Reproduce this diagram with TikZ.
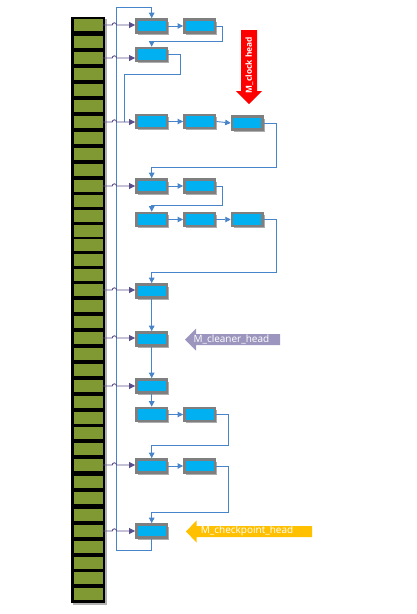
\documentclass[tikz,border=0pt]{standalone}
\usepackage{fontspec}
\newfontfamily\lbl{Open Sans}
\usetikzlibrary{arrows.meta,shadows}
\definecolor{cellgreen}{RGB}{128,153,51}
\definecolor{nodeblue}{RGB}{0,176,240}
\definecolor{nodegray}{RGB}{127,127,127}
\definecolor{lineblue}{RGB}{72,132,202}
\definecolor{arrowpurple}{RGB}{88,78,140}
\definecolor{clockred}{RGB}{255,0,0}
\definecolor{cleanergray}{RGB}{156,150,190}
\definecolor{ckyellow}{RGB}{255,192,0}
\tikzset{
  cell/.style={fill=cellgreen, draw=none, minimum width=29pt, minimum height=12pt, inner sep=0pt},
  nd/.style={fill=nodeblue, draw=nodegray, line width=2.6pt, minimum width=30.7pt, minimum height=13pt, inner sep=0pt,
    drop shadow={shadow xshift=2pt, shadow yshift=-2pt, opacity=.4, fill=black!80}},
  bl/.style={draw=lineblue, line width=0.9pt},
  bla/.style={bl, -{Triangle[length=5.5pt,width=5.5pt]}},
  pa/.style={draw=arrowpurple, line width=0.9pt, -{Triangle[length=6pt,width=6pt]}},
  lbltext/.style={text=white, inner sep=0pt, font=\lbl\fontsize{10}{12}\selectfont}
}
\begin{document}
\begin{tikzpicture}[x=1pt,y=-1pt]
\useasboundingbox (0,0) rectangle (416,614);
% bucket array
\path[fill=black, drop shadow={shadow xshift=2pt, shadow yshift=-2pt, opacity=.3, fill=black}] (71,17) rectangle (105,603);
\foreach \yy [count=\i from 0] in {25,41.5,58,74,90,106,122,138,154,170,186,200.9,215.7,230.6,245.4,260.3,275.1,290,306,322,338,354,370,386,401.8,417.6,433.4,449.2,465,481.5,498,514.5,531,546.75,562.5,578.25,594}
  \node[cell] (c\i) at (88,\yy) {};
% list nodes
\def\xa{151.7}\def\xb{199.7}\def\xc{247.4}
\node[nd] (A1) at (\xa,26) {};
\node[nd] (A2) at (\xb,26) {};
\node[nd] (B1) at (\xa,54.5) {};
\node[nd] (C1) at (\xa,121.5) {};
\node[nd] (C2) at (\xb,121.5) {};
\node[nd] (C3) at (\xc,123) {};
\node[nd] (D1) at (\xa,186) {};
\node[nd] (D2) at (\xb,186) {};
\node[nd] (E1) at (\xa,219.5) {};
\node[nd] (E2) at (\xb,219.5) {};
\node[nd] (E3) at (\xc,219.5) {};
\node[nd] (F1) at (\xa,291) {};
\node[nd] (G1) at (\xa,339) {};
\node[nd] (H1) at (\xa,386) {};
\node[nd] (I1) at (\xa,414.5) {};
\node[nd] (I2) at (\xb,414.5) {};
\node[nd] (J1) at (\xa,466) {};
\node[nd] (J2) at (\xb,466) {};
\node[nd] (K1) at (\xa,531) {};
% blue connectors
\coordinate (ab) at (222.3,41.7);
\coordinate (bc) at (180,74);
\coordinate (bc2) at (124,121.5);
\coordinate (cd) at (276.7,167.3);
\coordinate (de) at (222.3,205.7);
\coordinate (ef) at (276.7,272.3);
\coordinate (ij) at (228.3,445.7);
\coordinate (jk) at (228.3,512.3);
\coordinate (l1) at (116.7,550);
\coordinate (l2) at (116.7,7);
\draw[bla] (A1.east) -- (A2.west);
\draw[bla] (A2.east) -| (ab) -| (B1.north);
\draw[bl] (B1.east) -| (bc) -| (bc2);
\draw[bla] (C1.east) -- (C2.west);
\draw[bla] (C2.east) -- (C3.west);
\draw[bla] (C3.east) -| (cd) -| (D1.north);
\draw[bla] (D1.east) -- (D2.west);
\draw[bla] (D2.east) -| (de) -| (E1.north);
\draw[bla] (E1.east) -- (E2.west);
\draw[bla] (E2.east) -- (E3.west);
\draw[bla] (E3.east) -| (ef) -| (F1.north);
\draw[bla] (F1.south) -- (G1.north);
\draw[bla] (G1.south) -- (H1.north);
\draw[bla] (H1.south) -- (I1.north);
\draw[bla] (I1.east) -- (I2.west);
\draw[bla] (I2.east) -| (ij) -| (J1.north);
\draw[bla] (J1.east) -- (J2.west);
\draw[bla] (J2.east) -| (jk) -| (K1.north);
\draw[bla] (K1.south) |- (l1) -- (l2) -| (A1.north);
% purple pointers from buckets (with hop over the blue line)
\foreach \c/\n in {0/A1,2/B1,6/C1,10/D1,17/F1,20/G1,23/H1,28/J1,32/K1}
  \draw[pa] (c\c.east) -- ++(9.5,0) arc[start angle=180,end angle=0,radius=2.2pt] -- (c\c.east -| \n.west);
% labels
\fill[clockred] (241,30) -- (257,30) -- (257,91) -- (262,91) -- (249,104) -- (236,91) -- (241,91) -- cycle;
\node[lbltext, rotate=90, font=\lbl\bfseries\fontsize{8.4}{10}\selectfont] (clk) at (249.3,65) {M\_clock head};
\fill[cleanergray] (185,339.5) -- (196,328.5) -- (196,334) -- (280,334) -- (280,345) -- (196,345) -- (196,350.5) -- cycle;
\node[lbltext, anchor=west] (cln) at (193.3,339.3) {M\_cleaner\_head};
\fill[ckyellow] (186,531.5) -- (196.5,520.5) -- (196.5,526) -- (312,526) -- (312,537) -- (196.5,537) -- (196.5,542.5) -- cycle;
\node[lbltext, anchor=west] (ckp) at (200.7,531.1) {M\_checkpoint\_head};
\end{tikzpicture}
\end{document}
